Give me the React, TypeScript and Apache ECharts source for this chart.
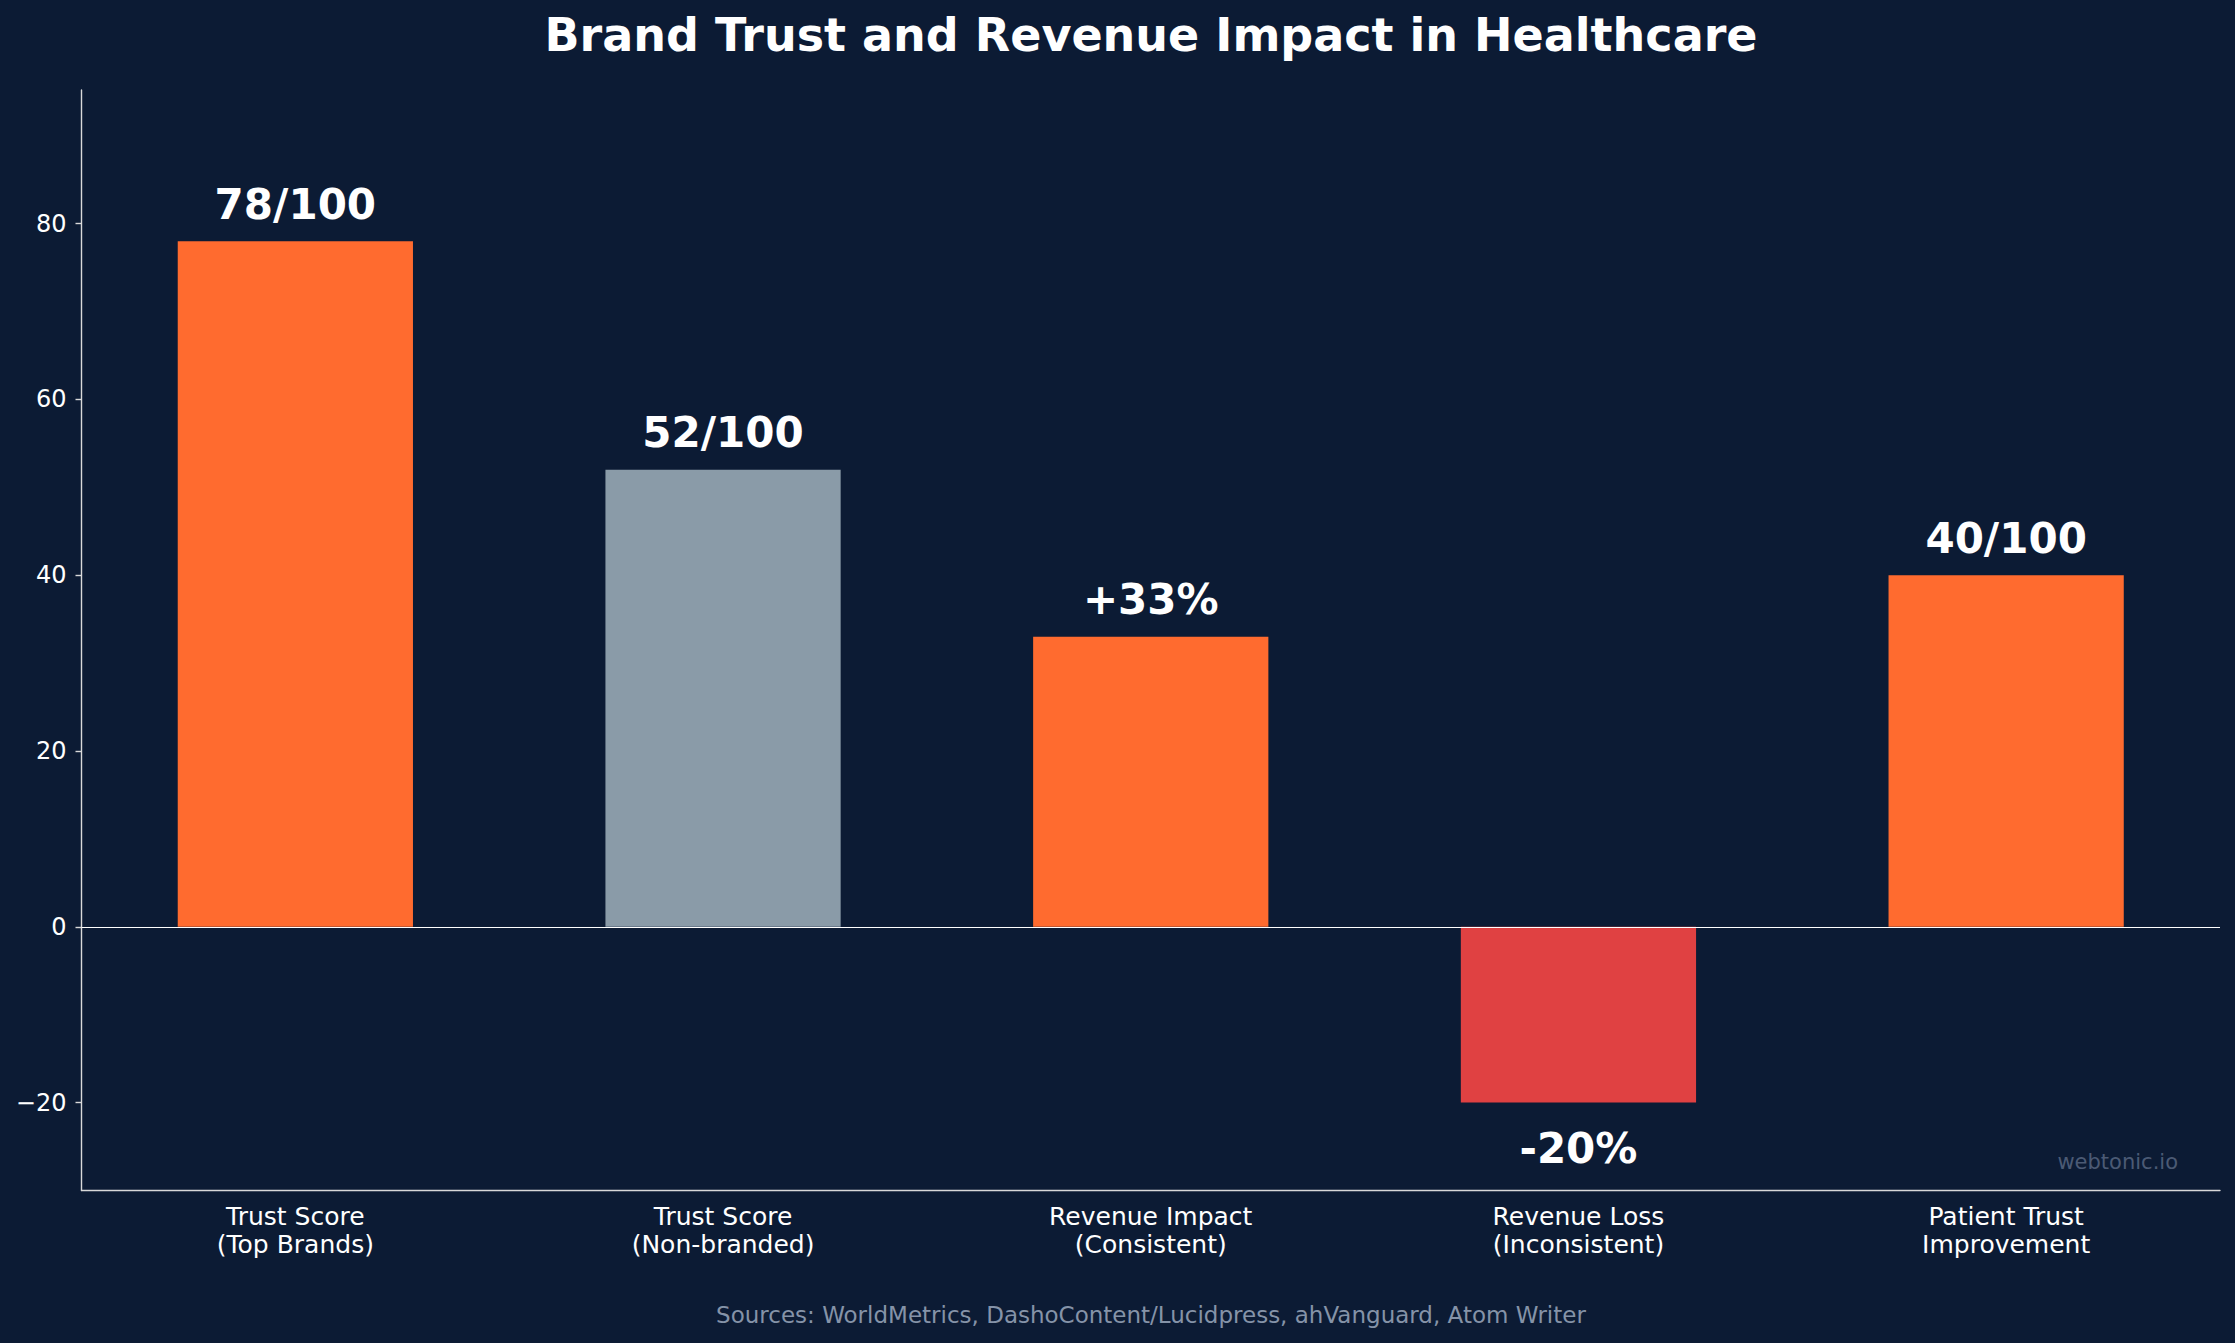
import React, { useEffect, useRef } from "react";
import * as echarts from "echarts";

const categories = [
  "Trust Score\n(Top Brands)",
  "Trust Score\n(Non-branded)",
  "Revenue Impact\n(Consistent)",
  "Revenue Loss\n(Inconsistent)",
  "Patient Trust\nImprovement",
];
const values = [78, 52, 33, -20, 40];
const valueLabels = ["78/100", "52/100", "+33%", "-20%", "40/100"];
const barColors = ["#FF6B2F", "#8A9BA8", "#FF6B2F", "#E04142", "#FF6B2F"];
const yTicks = [-20, 0, 20, 40, 60, 80];

const titleText = "Brand Trust and Revenue Impact in Healthcare";
const sourceText = "Sources: WorldMetrics, DashoContent/Lucidpress, ahVanguard, Atom Writer";
const watermarkText = "webtonic.io";

const FONT = "DejaVu Sans";
const BG = "#0C1B34";

export default function App() {
  const ref = useRef<HTMLDivElement>(null);
  useEffect(() => {
    document.body.style.margin = "0";
    document.body.style.background = BG;
    document.body.style.overflow = "hidden";
    if (!ref.current) return;
    const chart = echarts.init(ref.current, null, { renderer: "svg" });
    const data = values.map((v, i) => ({
      value: v,
      itemStyle: { color: barColors[i] },
      label: {
        show: true,
        position: v >= 0 ? "top" : "bottom",
        distance: v >= 0 ? 16 : 25,
        formatter: () => valueLabels[i],
      },
    }));
    chart.setOption({
      animation: false,
      backgroundColor: BG,
      grid: { left: 81.5, right: 15, top: 90, bottom: 152.5 },
      xAxis: {
        type: "category",
        data: categories,
        boundaryGap: true,
        axisLine: { onZero: false, lineStyle: { color: "#D9D9D9", width: 1.4 } },
        axisTick: { alignWithLabel: true, length: 6, lineStyle: { color: "#D9D9D9", width: 1.4 } },
        axisLabel: {
          color: "#FFFFFF",
          fontFamily: FONT,
          fontSize: 25,
          lineHeight: 28,
          margin: 12,
        },
      },
      yAxis: {
        type: "value",
        min: -30,
        max: 95.2,
        splitLine: { show: false },
        axisLine: { show: true, lineStyle: { color: "#D9D9D9", width: 1.4 } },
        axisTick: {
          show: true,
          length: 6,
          customValues: yTicks,
          lineStyle: { color: "#D9D9D9", width: 1.4 },
        },
        axisLabel: {
          customValues: yTicks,
          color: "#FFFFFF",
          fontFamily: FONT,
          fontSize: 24,
          margin: 15,
          formatter: (v: number) => (v < 0 ? "\u2212" + Math.abs(v) : String(v)),
        },
      },
      series: [
        {
          type: "bar",
          data,
          barWidth: "55%",
          label: {
            color: "#FFFFFF",
            fontFamily: FONT,
            fontSize: 42,
            lineHeight: 42,
            fontWeight: "bold",
          },
          markLine: {
            silent: true,
            symbol: "none",
            label: { show: false },
            lineStyle: { color: "#FFFFFF", width: 1.2, type: "solid" },
            data: [{ yAxis: 0 }],
          },
        },
      ],
      graphic: [
        {
          type: "text",
          x: 1151,
          y: 35,
          style: {
            text: titleText,
            fill: "#FFFFFF",
            font: `bold 46px "${FONT}"`,
            textAlign: "center",
            textVerticalAlign: "middle",
          },
        },
        {
          type: "text",
          x: 1151,
          y: 1315,
          style: {
            text: sourceText,
            fill: "#8593A8",
            font: `23px "${FONT}"`,
            textAlign: "center",
            textVerticalAlign: "middle",
          },
        },
        {
          type: "text",
          x: 2178,
          y: 1162,
          style: {
            text: watermarkText,
            fill: "#4B5A74",
            font: `21px "${FONT}"`,
            textAlign: "right",
            textVerticalAlign: "middle",
          },
        },
      ],
    });
    return () => chart.dispose();
  }, []);
  return <div ref={ref} style={{ width: 2235, height: 1343 }} />;
}
